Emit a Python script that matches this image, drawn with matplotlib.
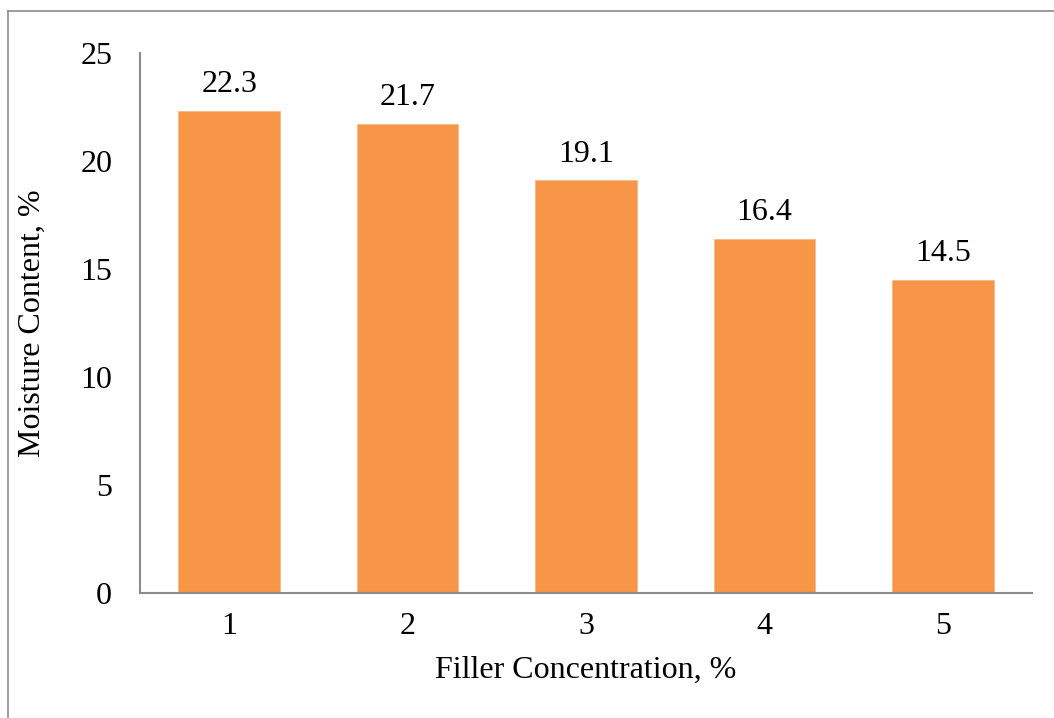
import matplotlib.pyplot as plt
from matplotlib.lines import Line2D

categories = ["1", "2", "3", "4", "5"]
moisture = [22.3, 21.7, 19.1, 16.4, 14.5]
y_ticks = [0, 5, 10, 15, 20, 25]

plt.rcParams['font.family'] = ['Liberation Serif', 'DejaVu Serif']

fig = plt.figure(figsize=(10.54, 7.18), dpi=100)
ax = fig.add_axes([140 / 1054, 1 - 593 / 718, (1032 - 140) / 1054, (593 - 53) / 718])

x = list(range(len(categories)))
bars = ax.bar(x, moisture, width=0.57, color='#F79646', edgecolor='#F9B58A', linewidth=0.6)

for xi, v in zip(x, moisture):
    ax.text(xi, v + 0.55, f"{v:.1f}", ha='center', va='bottom', fontsize=23)

ax.set_xlim(-0.5, len(categories) - 0.5)
ax.set_ylim(0, 25)
ax.set_xticks(x)
ax.set_xticklabels(categories)
ax.set_yticks(y_ticks)
ax.tick_params(axis='both', length=0, labelsize=23)
ax.tick_params(axis='x', pad=14)
ax.tick_params(axis='y', pad=20)

for s in ['top', 'right']:
    ax.spines[s].set_visible(False)
for s in ['left', 'bottom']:
    ax.spines[s].set_color('#8C8C8C')
    ax.spines[s].set_linewidth(1.5)

ax.set_xlabel("Filler Concentration, %", fontsize=23, labelpad=10)
ax.set_ylabel("Moisture Content, %", fontsize=23, labelpad=24)

# outer chart border (left and top visible)
fig.add_artist(Line2D([8 / 1054, 8 / 1054], [0, 1 - 11 / 718], color='#8C8C8C', lw=1.2, transform=fig.transFigure))
fig.add_artist(Line2D([8 / 1054, 1], [1 - 11 / 718, 1 - 11 / 718], color='#8C8C8C', lw=1.2, transform=fig.transFigure))

fig.savefig("out.png", dpi=100)
